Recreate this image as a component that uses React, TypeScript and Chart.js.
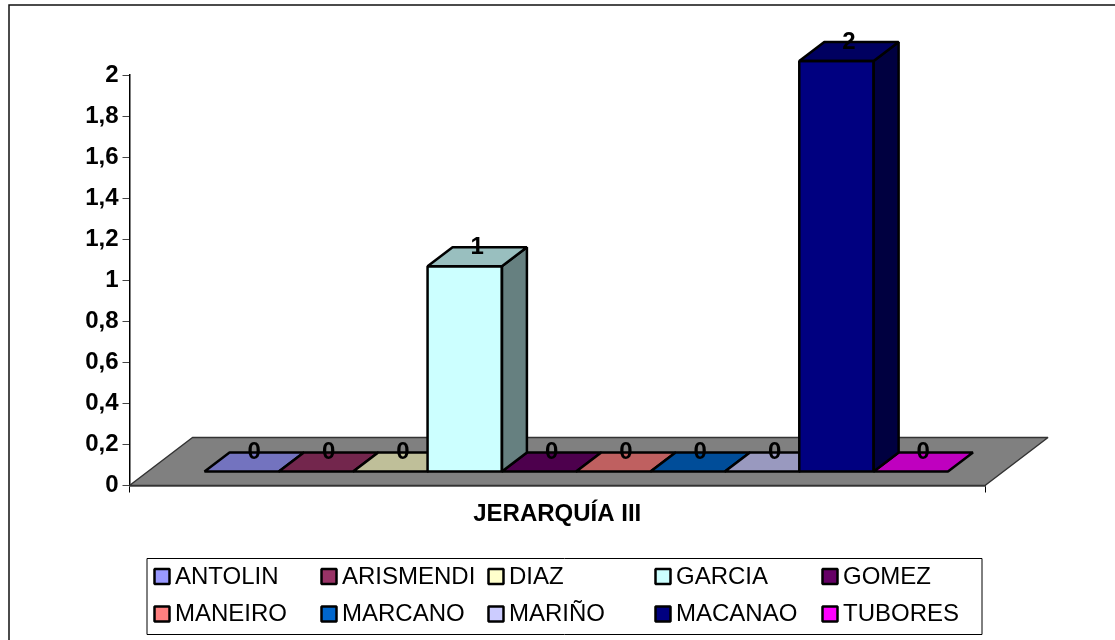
import React, { useEffect, useRef } from "react";
import { Chart, registerables } from "chart.js";

Chart.register(...registerables);

const categories = ["JERARQUÍA III"];
const seriesNames = ["ANTOLIN", "ARISMENDI", "DIAZ", "GARCIA", "GOMEZ", "MANEIRO", "MARCANO", "MARIÑO", "MACANAO", "TUBORES"];
const seriesValues = [0, 0, 0, 1, 0, 0, 0, 0, 2, 0];
const seriesColors = ["#9999FF", "#993366", "#FFFFCC", "#CCFFFF", "#660066", "#FF8080", "#0066CC", "#CCCCFF", "#000080", "#FF00FF"];

const FONT = '"Liberation Sans", Arial, sans-serif';
const FLOOR_DX = 63;
const FLOOR_DY = -48;
const SHIFT_X = 19;
const SHIFT_Y = -14;
const DEPTH_X = 25;
const DEPTH_Y = -19;
const OUTLINE = 2.5;

function shade(hex: string, k: number) {
  const n = parseInt(hex.slice(1), 16);
  const r = Math.round(((n >> 16) & 255) * k);
  const g = Math.round(((n >> 8) & 255) * k);
  const b = Math.round((n & 255) * k);
  return `rgb(${r},${g},${b})`;
}

function poly(ctx: CanvasRenderingContext2D, pts: number[][], fill: string, stroke: string, lw: number) {
  ctx.beginPath();
  pts.forEach((p, i) => (i ? ctx.lineTo(p[0], p[1]) : ctx.moveTo(p[0], p[1])));
  ctx.closePath();
  ctx.fillStyle = fill;
  ctx.fill();
  ctx.lineWidth = lw;
  ctx.strokeStyle = stroke;
  ctx.lineJoin = "bevel";
  ctx.stroke();
}

function barBox(chart: any, i: number) {
  const el = chart.getDatasetMeta(i).data[0];
  const w = el.width;
  const left = el.x - w / 2 + SHIFT_X;
  const right = el.x + w / 2 + SHIFT_X;
  const base = chart.scales.y.getPixelForValue(0) + SHIFT_Y;
  const top = chart.scales.y.getPixelForValue(seriesValues[i]) + SHIFT_Y;
  return { left, right, base, top };
}

const prism3d = {
  id: "prism3d",
  beforeDraw(chart: any) {
    const ctx = chart.ctx;
    ctx.save();
    ctx.strokeStyle = "#111";
    ctx.lineWidth = 1.5;
    ctx.strokeRect(9, 5, 1300, 900);
    ctx.restore();
  },
  beforeDatasetsDraw(chart: any) {
    const ctx = chart.ctx;
    const a = chart.chartArea;
    poly(ctx, [
      [a.left, a.bottom],
      [a.right, a.bottom],
      [a.right + FLOOR_DX, a.bottom + FLOOR_DY],
      [a.left + FLOOR_DX, a.bottom + FLOOR_DY],
    ], "#808080", "#333", 1.5);
    seriesValues.forEach((v, i) => {
      if (v !== 0) return;
      const b = barBox(chart, i);
      poly(ctx, [
        [b.left, b.base],
        [b.right, b.base],
        [b.right + DEPTH_X, b.base + DEPTH_Y],
        [b.left + DEPTH_X, b.base + DEPTH_Y],
      ], shade(seriesColors[i], 0.75), "#000", OUTLINE);
    });
    ctx.save();
    ctx.translate(SHIFT_X, SHIFT_Y);
  },
  afterDatasetsDraw(chart: any) {
    const ctx = chart.ctx;
    ctx.restore();
    seriesValues.forEach((v, i) => {
      if (v === 0) return;
      const b = barBox(chart, i);
      poly(ctx, [
        [b.right, b.base],
        [b.right + DEPTH_X, b.base + DEPTH_Y],
        [b.right + DEPTH_X, b.top + DEPTH_Y],
        [b.right, b.top],
      ], shade(seriesColors[i], 0.5), "#000", OUTLINE);
      poly(ctx, [
        [b.left, b.top],
        [b.right, b.top],
        [b.right + DEPTH_X, b.top + DEPTH_Y],
        [b.left + DEPTH_X, b.top + DEPTH_Y],
      ], shade(seriesColors[i], 0.75), "#000", OUTLINE);
      ctx.lineWidth = OUTLINE;
      ctx.strokeStyle = "#000";
      ctx.strokeRect(b.left, b.top, b.right - b.left, b.base - b.top);
    });
    ctx.save();
    ctx.font = `bold 24px ${FONT}`;
    ctx.fillStyle = "#000";
    ctx.textAlign = "center";
    ctx.textBaseline = "middle";
    seriesValues.forEach((v, i) => {
      const b = barBox(chart, i);
      ctx.fillText(String(v), (b.left + b.right) / 2 + DEPTH_X / 2, b.top + DEPTH_Y);
    });
    ctx.restore();
  },
  afterDraw(chart: any) {
    const ctx = chart.ctx;
    const boxL = 147, boxT = 558.5, boxW = 835, boxH = 76;
    ctx.save();
    ctx.strokeStyle = "#000";
    ctx.lineWidth = 1;
    ctx.strokeRect(boxL, boxT, boxW, boxH);
    ctx.font = `24px ${FONT}`;
    ctx.textBaseline = "middle";
    ctx.textAlign = "left";
    chart.data.datasets.forEach((d: any, i: number) => {
      const col = i % 5;
      const row = Math.floor(i / 5);
      const x = 154.5 + col * 167;
      const cy = 577 + row * 37.5;
      ctx.fillStyle = d.backgroundColor;
      ctx.fillRect(x, cy - 8, 15, 15);
      ctx.lineWidth = 2.5;
      ctx.strokeRect(x, cy - 8, 15, 15);
      ctx.fillStyle = "#000";
      ctx.fillText(d.label, x + 20.5, cy);
    });
    ctx.restore();
  },
};

export default function App() {
  const ref = useRef<HTMLCanvasElement>(null);
  useEffect(() => {
    const chart = new Chart(ref.current!, {
      type: "bar",
      data: {
        labels: categories,
        datasets: seriesNames.map((name, i) => ({
          label: name,
          data: [seriesValues[i]],
          backgroundColor: seriesColors[i],
          borderWidth: 0,
          clip: false as any,
        })),
      },
      plugins: [prism3d],
      options: {
        animation: false,
        responsive: false,
        devicePixelRatio: 1,
        layout: { padding: { top: 75, right: 130, left: 0, bottom: 0 } },
        datasets: { bar: { categoryPercentage: 0.869, barPercentage: 1 } },
        plugins: { legend: { display: false }, tooltip: { enabled: false }, title: { display: false } },
        scales: {
          x: {
            afterFit: (s: any) => { s.height = 154.5; },
            grid: { drawOnChartArea: false, drawTicks: true, tickLength: 7, color: "#000", offset: true },
            border: { color: "#000", width: 1.5 },
            ticks: { color: "#000", padding: 7, maxRotation: 0, font: { family: FONT, size: 24, weight: "bold" } },
          },
          y: {
            min: 0,
            max: 2,
            afterFit: (s: any) => { s.width = 129.5; },
            grid: { drawOnChartArea: false, drawTicks: true, tickLength: 7, color: "#444" },
            border: { color: "#000", width: 1.5 },
            ticks: {
              stepSize: 0.2,
              color: "#000",
              padding: 4,
              font: { family: FONT, size: 24, weight: "bold" },
              callback: (v: any) => String(Math.round(Number(v) * 10) / 10).replace(".", ","),
            },
          },
        },
      },
    } as any);
    return () => chart.destroy();
  }, []);
  return <canvas ref={ref} width={1115} height={640} style={{ position: "fixed", left: 0, top: 0, display: "block" }} />;
}
